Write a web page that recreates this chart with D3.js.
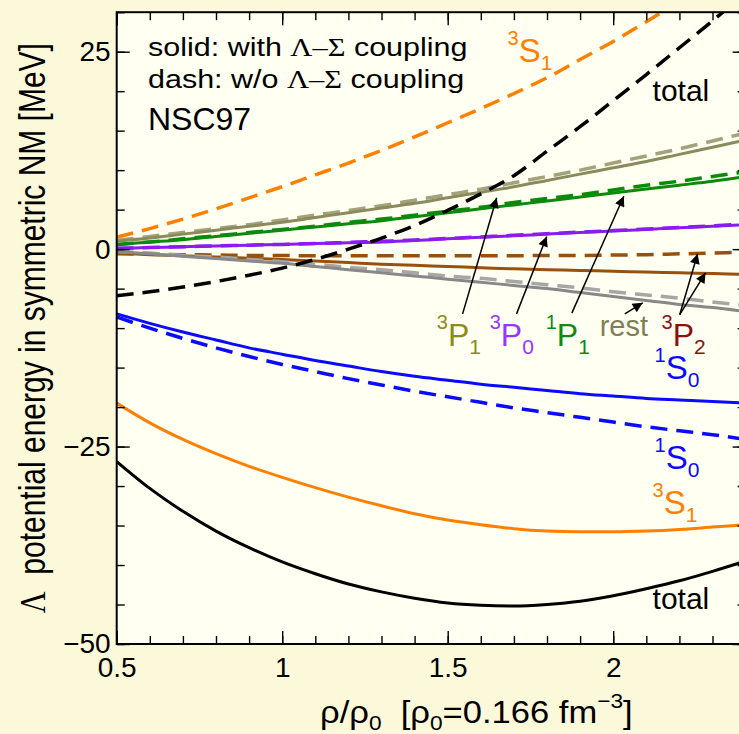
<!DOCTYPE html>
<html>
<head>
<meta charset="utf-8">
<script src="https://cdn.jsdelivr.net/npm/d3@7"></script>
<style>
  body { margin: 0; background: #fcf9da; }
  svg { display: block; font-family: "Liberation Sans", Arial, sans-serif; }
</style>
</head>
<body>
<svg width="739" height="734"></svg>
<script>
// density grid rho/rho0
var rho = [0.5,0.6,0.7,0.8,0.9,1.0,1.1,1.2,1.3,1.4,1.5,1.6,1.7,1.8,1.9,2.0,2.1,2.2,2.3,2.4];

// solid = with Lambda-Sigma coupling, dash = without
var totalSolid = [-26.9,-30.3,-33.2,-35.7,-37.8,-39.6,-41.1,-42.4,-43.4,-44.2,-44.8,-45.1,-45.2,-45.0,-44.6,-43.9,-43.0,-42.0,-40.8,-39.5];
var totalDash  = [-5.9,-5.4,-4.8,-4.1,-3.3,-2.4,-1.3,0.0,1.4,3.0,4.9,7.0,9.3,12.4,15.5,18.8,22.1,25.5,28.9,32.5];
var s3S1Solid  = [-19.5,-22.0,-24.1,-25.9,-27.5,-28.9,-30.2,-31.4,-32.5,-33.5,-34.3,-34.9,-35.4,-35.7,-35.8,-35.8,-35.7,-35.5,-35.2,-34.9];
var s3S1Dash   = [1.5,2.6,3.8,5.1,6.5,7.9,9.4,10.9,12.5,14.2,16.0,17.8,19.7,21.7,24.0,26.3,28.8,31.4,34.0,36.6];
var s1S0Solid  = [-8.2,-9.4,-10.5,-11.5,-12.5,-13.3,-14.1,-14.8,-15.5,-16.1,-16.6,-17.1,-17.5,-17.9,-18.3,-18.6,-18.9,-19.1,-19.3,-19.5];
var s1S0Dash   = [-8.6,-10.0,-11.3,-12.5,-13.6,-14.6,-15.5,-16.4,-17.2,-18.0,-18.7,-19.4,-20.1,-20.7,-21.3,-21.9,-22.5,-23.0,-23.5,-24.1];
var p3P1Solid  = [1.0,1.4,1.9,2.4,2.9,3.4,4.0,4.6,5.2,5.8,6.5,7.2,7.9,8.7,9.5,10.3,11.1,12.0,12.9,13.8];
var p3P1Dash   = [1.1,1.6,2.1,2.6,3.1,3.7,4.3,4.9,5.5,6.2,6.9,7.6,8.4,9.2,10.0,10.9,11.8,12.7,13.7,14.7];
var p1P1Solid  = [0.6,0.9,1.2,1.6,2.0,2.4,2.8,3.2,3.6,4.1,4.6,5.1,5.6,6.1,6.6,7.1,7.6,8.1,8.6,9.2];
var p1P1Dash   = [0.6,0.9,1.3,1.7,2.1,2.5,2.9,3.4,3.8,4.3,4.8,5.3,5.9,6.4,6.9,7.5,8.1,8.6,9.2,9.8];
var p3P0Solid  = [0.1,0.2,0.3,0.4,0.5,0.6,0.7,0.8,0.9,1.1,1.3,1.5,1.7,1.9,2.1,2.3,2.5,2.7,2.9,3.1];
var p3P0Dash   = [0.1,0.2,0.3,0.4,0.5,0.6,0.7,0.85,1.0,1.15,1.35,1.55,1.75,1.95,2.15,2.35,2.55,2.75,2.95,3.2];
var p3P2Solid  = [-0.5,-0.7,-0.85,-1.0,-1.15,-1.3,-1.5,-1.7,-1.9,-2.05,-2.2,-2.35,-2.5,-2.6,-2.7,-2.8,-2.9,-3.0,-3.1,-3.2];
var p3P2Dash   = [-0.6,-0.65,-0.7,-0.75,-0.8,-0.8,-0.85,-0.85,-0.85,-0.85,-0.85,-0.85,-0.85,-0.8,-0.8,-0.75,-0.7,-0.6,-0.5,-0.4];
var restSolid  = [-0.3,-0.6,-0.9,-1.2,-1.5,-1.8,-2.2,-2.6,-3.0,-3.4,-3.8,-4.2,-4.6,-5.0,-5.5,-6.0,-6.5,-7.0,-7.4,-7.9];
var restDash   = [-0.3,-0.5,-0.8,-1.0,-1.3,-1.6,-1.9,-2.3,-2.6,-3.0,-3.4,-3.7,-4.1,-4.5,-4.9,-5.4,-5.8,-6.2,-6.7,-7.1];

var xMajor = [0.5, 1, 1.5, 2];
var yMajor = [-50, -25, 0, 25];

var series = [
  {v: p3P2Dash,  c: "#98500f", dash: true},
  {v: p3P2Solid, c: "#98500f"},
  {v: restDash,  c: "#a6a6a6", dash: true},
  {v: restSolid, c: "#888888"},
  {v: p3P0Dash,  c: "#8b1cf0", dash: true},
  {v: p3P0Solid, c: "#8b1cf0"},
  {v: p1P1Dash,  c: "#0b8a0b", dash: true},
  {v: p1P1Solid, c: "#0b8a0b"},
  {v: p3P1Dash,  c: "#a3a27a", dash: true},
  {v: p3P1Solid, c: "#8b8a5d"},
  {v: s1S0Dash,  c: "#0a0aff", dash: true},
  {v: s1S0Solid, c: "#0a0aff"},
  {v: s3S1Dash,  c: "#ff8000", dash: true},
  {v: s3S1Solid, c: "#ff8000"},
  {v: totalDash, c: "#000", dash: true},
  {v: totalSolid, c: "#000"}
];

// labels: [text, shift] where shift is sup/sub
var labels = [
  {x: 1.681, y: 23.7,  c: "#ff8000", parts: [["3","sup"],["S",""],["1","sub"]], fs: 33},
  {x: 2.119, y: 18.8,  c: "#000",    parts: [["total",""]], fs: 30},
  {x: 1.467, y: -12.3, c: "#8c8c14", parts: [["3","sup"],["P",""],["1","sub"]]},
  {x: 1.627, y: -12.3, c: "#9933ff", parts: [["3","sup"],["P",""],["0","sub"]]},
  {x: 1.796, y: -12.3, c: "#118811", parts: [["1","sup"],["P",""],["1","sub"]]},
  {x: 1.959, y: -11.0, c: "#7f7f55", parts: [["rest",""]], fs: 29},
  {x: 2.146, y: -12.3, c: "#8b1010", parts: [["3","sup"],["P",""],["2","sub"]]},
  {x: 2.125, y: -16.5, c: "#0a0aff", parts: [["1","sup"],["S",""],["0","sub"]], fs: 33},
  {x: 2.125, y: -27.9, c: "#0a0aff", parts: [["1","sup"],["S",""],["0","sub"]], fs: 33},
  {x: 2.119, y: -33.5, c: "#ff8000", parts: [["3","sup"],["S",""],["1","sub"]], fs: 33},
  {x: 2.119, y: -45.6, c: "#000",    parts: [["total",""]], fs: 30}
];

// arrows: [x0, y0, x1, y1] in data units, tail at label, head at curve
var arrows = [
  [1.545, -8.2, 1.648, 6.5],
  [1.708, -8.2, 1.799, 1.6],
  [1.875, -8.1, 2.032, 6.7],
  [2.035, -8.2, 2.089, -6.8],
  [2.201, -8.3, 2.255, -0.6],
  [2.201, -8.3, 2.279, -3.0]
];

var svg = d3.select("svg"),
    width = +svg.attr("width"),
    height = +svg.attr("height");

var x = d3.scaleLinear().domain([0.5, 2.4]).range([116.7, 745.6]),
    y = d3.scaleLinear().domain([-50, 30]).range([644, 12.2]);

svg.append("rect").attr("width", width).attr("height", height).attr("fill", "#fcf9da");

var defs = svg.append("defs");
defs.append("clipPath").attr("id", "clip").append("rect")
    .attr("x", x(0.5)).attr("y", y(30))
    .attr("width", x(2.4) - x(0.5)).attr("height", y(-50) - y(30));
defs.append("marker").attr("id", "head")
    .attr("viewBox", "0 0 10 10").attr("refX", 10).attr("refY", 5)
    .attr("markerWidth", 14).attr("markerHeight", 10).attr("markerUnits", "userSpaceOnUse")
    .attr("orient", "auto")
  .append("path").attr("d", "M0,0 L10,5 L0,10 z").attr("fill", "#000");

svg.append("rect")
    .attr("x", x(0.5)).attr("y", y(30))
    .attr("width", x(2.4) - x(0.5)).attr("height", y(-50) - y(30))
    .attr("fill", "#fffff2");

// curves
var line = d3.line()
    .x(function(d, i) { return x(rho[i]); })
    .y(function(d) { return y(d); })
    .curve(d3.curveMonotoneX);

svg.append("g").attr("clip-path", "url(#clip)")
  .selectAll("path").data(series).enter().append("path")
    .attr("d", function(d) { return line(d.v); })
    .attr("fill", "none")
    .attr("stroke", function(d) { return d.c; })
    .attr("stroke-width", function(d) { return d.dash ? 3.5 : 3; })
    .attr("stroke-dasharray", function(d) { return d.dash ? "17,9" : null; });

// axes with inward ticks on all four sides
var minorX = d3.range(0.5, 2.41, 0.1).map(function(v) { return +v.toFixed(2); }),
    minorY = d3.range(-50, 31, 5);

function drawAxis(axisFn, scale, tr, vals, size, labelled) {
  var a = axisFn(scale).tickValues(vals).tickSize(-size).tickSizeOuter(0)
      .tickPadding(labelled ? 7 : 0).tickFormat(labelled ? d3.format("~g") : "");
  var g = svg.append("g").attr("transform", tr).call(a);
  g.select(".domain").remove();
  g.selectAll("line").attr("stroke", "#000").attr("stroke-width", 1.4);
  g.selectAll("text").attr("fill", "#000").style("font-size", "28px")
    .style("font-family", "'Liberation Sans', Arial, sans-serif");
  return g;
}
drawAxis(d3.axisBottom, x, "translate(0," + y(-50) + ")", minorX, 8, false);
var gx = drawAxis(d3.axisBottom, x, "translate(0," + y(-50) + ")", xMajor, 13, true);
gx.selectAll("text").attr("dy", "0.71em").attr("y", 13);
drawAxis(d3.axisTop, x, "translate(0," + y(30) + ")", minorX, 8, false);
drawAxis(d3.axisTop, x, "translate(0," + y(30) + ")", xMajor, 13, false);
drawAxis(d3.axisLeft, y, "translate(" + x(0.5) + ",0)", minorY, 8, false);
var gy = drawAxis(d3.axisLeft, y, "translate(" + x(0.5) + ",0)", yMajor, 13, true);
gy.selectAll("text").attr("x", -6);
drawAxis(d3.axisRight, y, "translate(" + x(2.4) + ",0)", minorY, 8, false);
drawAxis(d3.axisRight, y, "translate(" + x(2.4) + ",0)", yMajor, 13, false);

svg.append("rect")
    .attr("x", x(0.5)).attr("y", y(30))
    .attr("width", x(2.4) - x(0.5)).attr("height", y(-50) - y(30))
    .attr("fill", "none").attr("stroke", "#000").attr("stroke-width", 2);

// arrows
svg.append("g").selectAll("line").data(arrows).enter().append("line")
    .attr("x1", function(d) { return x(d[0]); })
    .attr("y1", function(d) { return y(d[1]); })
    .attr("x2", function(d) { return x(d[2]); })
    .attr("y2", function(d) { return y(d[3]); })
    .attr("stroke", "#000").attr("stroke-width", 1.5)
    .attr("marker-end", "url(#head)");

// curve labels
labels.forEach(function(d) {
  var t = svg.append("text")
      .attr("x", x(d.x)).attr("y", y(d.y))
      .attr("fill", d.c)
      .style("font-size", (d.fs || 32) + "px");
  var cur = 0;
  d.parts.forEach(function(p) {
    var s = p[1] == "sup" ? -17 : p[1] == "sub" ? 8 : 0;
    var ts = t.append("tspan").text(p[0]).attr("dy", s - cur);
    if (p[1]) ts.style("font-size", p[1] == "sub" ? "21px" : "20px");
    cur = s;
  });
});

// legend text
function legendLine(ty, a, b) {
  var t = svg.append("text")
      .attr("transform", "translate(148," + ty + ") scale(1.22,1)")
      .style("font-size", "25px").style("white-space", "pre").attr("fill", "#000");
  t.append("tspan").text(a);
  t.append("tspan").text("\u039B\u2013\u03A3").style("font-family", "'Liberation Serif', 'Times New Roman', serif");
  t.append("tspan").text(b);
}
legendLine(56, "solid: with ", " coupling");
legendLine(88, "dash: w/o ", " coupling");
svg.append("text").attr("x", 148).attr("y", 130).style("font-size", "32px").text("NSC97");

// axis titles
var yt = svg.append("text")
    .attr("transform", "translate(45," + ((y(30) + y(-50)) / 2) + ") rotate(-90) scale(1,1.2)")
    .attr("text-anchor", "middle")
    .style("font-size", "30px").style("white-space", "pre");
yt.append("tspan").text("\u039B").style("font-family", "'Liberation Serif', serif");
yt.append("tspan").text("  potential energy in symmetric NM [MeV]");

var xt = svg.append("text").attr("transform", "translate(320,723) scale(1.08,1)")
    .style("font-size", "32px").style("white-space", "pre");
xt.append("tspan").text("\u03C1/\u03C1");
xt.append("tspan").text("0").attr("dy", 7).style("font-size", "21px");
xt.append("tspan").text("  [\u03C1").attr("dy", -7);
xt.append("tspan").text("0").attr("dy", 7).style("font-size", "21px");
xt.append("tspan").text("=0.166 fm").attr("dy", -7);
xt.append("tspan").text("\u22123").attr("dy", -15).style("font-size", "21px");
xt.append("tspan").text("]").attr("dy", 15);
</script>
</body>
</html>
